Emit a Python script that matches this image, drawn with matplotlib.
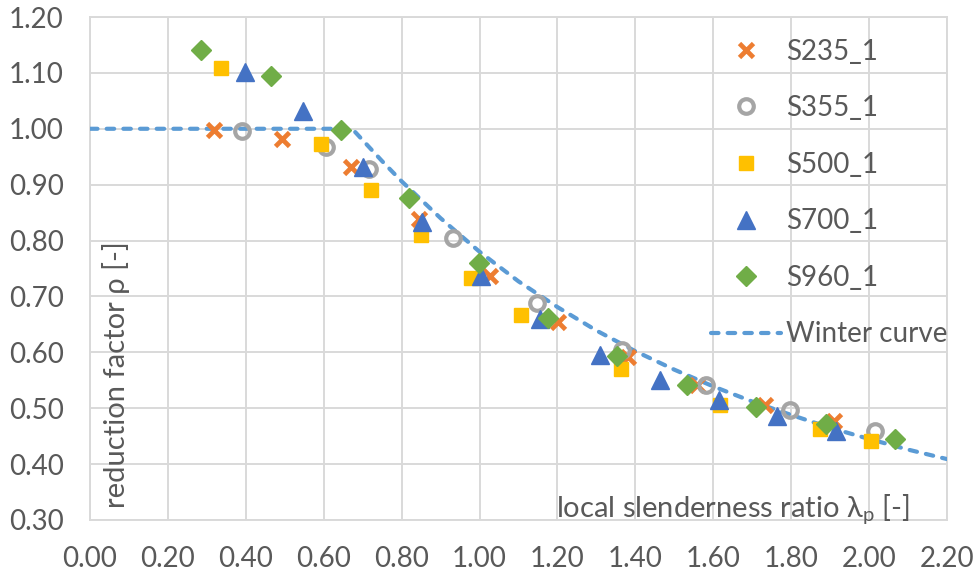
import matplotlib
matplotlib.use("Agg")
import matplotlib.pyplot as plt
import matplotlib.ticker as mticker

# -- Data ---------------------------------------------------------------------
s235_x = [0.319, 0.494, 0.669, 0.845, 1.028, 1.202, 1.381, 1.558, 1.733, 1.910]
s235_y = [0.997, 0.981, 0.931, 0.838, 0.736, 0.654, 0.591, 0.542, 0.506, 0.478]

s355_x = [0.390, 0.605, 0.716, 0.932, 1.148, 1.366, 1.581, 1.797, 2.014]
s355_y = [0.996, 0.967, 0.928, 0.805, 0.689, 0.604, 0.541, 0.496, 0.460]

s500_x = [0.336, 0.592, 0.721, 0.849, 0.977, 1.107, 1.363, 1.618, 1.874, 2.005]
s500_y = [1.109, 0.973, 0.890, 0.810, 0.733, 0.667, 0.571, 0.506, 0.462, 0.441]

s700_x = [0.397, 0.548, 0.700, 0.853, 1.005, 1.156, 1.309, 1.462, 1.614, 1.763, 1.915]
s700_y = [1.102, 1.031, 0.931, 0.833, 0.736, 0.659, 0.596, 0.551, 0.515, 0.486, 0.459]

s960_x = [0.286, 0.464, 0.644, 0.820, 0.998, 1.176, 1.353, 1.532, 1.710, 1.889, 2.067]
s960_y = [1.141, 1.095, 0.998, 0.876, 0.759, 0.662, 0.593, 0.542, 0.503, 0.472, 0.445]

winter_x = [0.00, 0.673, 0.75, 0.80, 0.90, 1.00, 1.10, 1.20, 1.30, 1.40, 1.50,
            1.60, 1.70, 1.80, 1.90, 2.00, 2.10, 2.20]
winter_y = [1.000, 1.000, 0.942, 0.906, 0.840, 0.780, 0.727, 0.681, 0.639, 0.602,
            0.569, 0.539, 0.512, 0.488, 0.465, 0.445, 0.426, 0.409]

# -- Style --------------------------------------------------------------------
FONT = ["Lato", "DejaVu Sans"]
TEXT_C = "#595959"
GRID_C = "#d9d9d9"
FS = 20        # ticks + legend
FS_TITLE = 21  # axis titles

plt.rcParams["font.family"] = FONT

W, H = 978, 576
fig = plt.figure(figsize=(W / 100, H / 100), dpi=100)
# plot area: x 90..947 px, y 17..520 px
ax = fig.add_axes([90 / W, 1 - 520 / H, 857 / W, 503 / H])

# -- Series -------------------------------------------------------------------
ax.plot(s235_x, s235_y, ls="none", marker="x", ms=9.5, mew=3.4,
        color="#ED7D31", label="S235_1", zorder=4)
ax.plot(s355_x, s355_y, ls="none", marker="o", ms=10.5, mew=3.0,
        mfc="none", mec="#A5A5A5", label="S355_1", zorder=4)
ax.plot(s500_x, s500_y, ls="none", marker="s", ms=10.5,
        color="#FFC000", label="S500_1", zorder=4)
ax.plot(s700_x, s700_y, ls="none", marker="^", ms=13,
        color="#4472C4", label="S700_1", zorder=4)
ax.plot(s960_x, s960_y, ls="none", marker="D", ms=10,
        color="#70AD47", label="S960_1", zorder=4)
ax.plot(winter_x, winter_y, color="#5B9BD5", lw=3.0, ls=(0, (1.8, 2.2)),
        dash_capstyle="round", label="Winter curve", zorder=3)

# -- Axes ---------------------------------------------------------------------
ax.set_xlim(0, 2.2)
ax.set_ylim(0.3, 1.2)
ax.xaxis.set_major_locator(mticker.MultipleLocator(0.2))
ax.yaxis.set_major_locator(mticker.MultipleLocator(0.1))
ax.xaxis.set_major_formatter(mticker.FormatStrFormatter("%.2f"))
ax.yaxis.set_major_formatter(mticker.FormatStrFormatter("%.2f"))
ax.grid(True, color=GRID_C, lw=1.4, zorder=0)
ax.set_axisbelow(True)
for sp in ax.spines.values():
    sp.set_color(GRID_C)
    sp.set_linewidth(1.4)
ax.tick_params(length=0, labelsize=FS, labelcolor=TEXT_C)
ax.tick_params(axis="y", pad=19)
ax.tick_params(axis="x", pad=19)

# -- Axis titles inside the plot -----------------------------------------------
ax.text((125 - 90) / 857, (520 - 508) / 503, "reduction factor \u03c1 [-]",
        transform=ax.transAxes, rotation=90, rotation_mode="anchor",
        ha="left", va="baseline", fontsize=FS_TITLE, color=TEXT_C)
ax.text((910 - 90) / 857, (520 - 517) / 503,
        "local slenderness ratio \u03bb$_\\mathregular{p}$ [-]",
        transform=ax.transAxes, ha="right", va="baseline",
        fontsize=FS_TITLE, color=TEXT_C)

# -- Legend -------------------------------------------------------------------
leg = ax.legend(loc="upper left", bbox_to_anchor=(705 / W, 1 - 33 / H),
                bbox_transform=fig.transFigure, frameon=False, fontsize=FS,
                handlelength=2.55, handletextpad=0.18, labelspacing=1.1,
                borderpad=0.2, borderaxespad=0)
for t in leg.get_texts():
    t.set_color(TEXT_C)

fig.savefig("out.png", dpi=100)
